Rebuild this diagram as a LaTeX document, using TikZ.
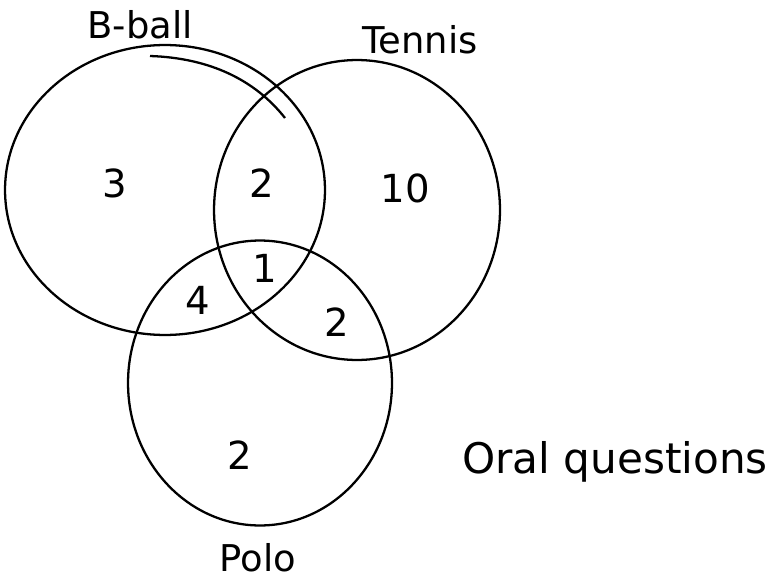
\documentclass[tikz,border=0pt]{standalone}
\usepackage{fontspec}
\setmainfont{DejaVu Sans}
\usetikzlibrary{positioning}

\begin{document}
\begin{tikzpicture}[x=0.02cm,y=-0.02cm,
  ring/.style={line width=1.3pt},
  num/.style={font=\fontsize{22}{26}\selectfont},
  lbl/.style={font=\fontsize{21}{25}\selectfont}]
\useasboundingbox (0,0) rectangle (776,584);
% the three sets
\draw[ring] (165,190) ellipse [x radius=3.2cm, y radius=2.9cm];
\draw[ring] (357,210) ellipse [x radius=2.86cm, y radius=3.0cm];
\draw[ring] (260,383) ellipse [x radius=2.64cm, y radius=2.85cm];
% second stroke along the top of B-ball
\draw[ring] (150,56) .. controls (210,58) and (255,80) .. (285,118);
% set names
\node[lbl] (bball) at (140,25) {B-ball};
\node[lbl] (tennis) at (420,40) {Tennis};
\node[lbl] (polo) at (258,558) {Polo};
\node[lbl,font=\fontsize{24}{28}\selectfont] (oral) at (615,462) {Oral questions};
% counts
\node[num] (onlyb) at (115,183) {3};
\node[num] (bt) at (262,183) {2};
\node[num] (onlyt) at (405,188) {10};
\node[num] (btp) at (265,268) {1};
\node[num] (bp) at (198,300) {4};
\node[num] (tp) at (337,322) {2};
\node[num] (onlyp) at (240,455) {2};
\end{tikzpicture}
\end{document}
